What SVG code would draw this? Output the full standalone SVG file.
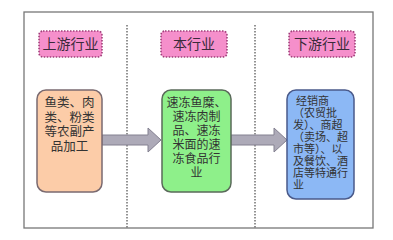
<svg xmlns="http://www.w3.org/2000/svg" width="393" height="240" viewBox="0 0 393 240">
<defs>
<style>
.hdr{fill:#f58fcb;stroke:#a0407a;stroke-width:1.6;stroke-dasharray:1.5 1.5}
.ht{font-family:"Noto Sans CJK SC","Noto Sans",sans-serif;font-size:14px;fill:#3a2a3a;text-anchor:middle}
.bt{font-family:"Noto Sans CJK SC","Noto Sans",sans-serif;font-size:12.5px;fill:#333;text-anchor:middle}
.gt{font-family:"Noto Sans CJK SC","Noto Sans",sans-serif;font-size:12px;fill:#333;text-anchor:middle}
.bl{font-family:"Noto Sans CJK SC","Noto Sans",sans-serif;font-size:11px;fill:#333}
.sep{stroke:#666;stroke-width:1.4;stroke-dasharray:1.5 1.5}
.arr{fill:#adaab8;stroke:#838090;stroke-width:1}
</style>
</defs>
<rect x="0" y="0" width="393" height="240" fill="#fff"/>
<rect x="24" y="12" width="349" height="216" fill="#fff" stroke="#777" stroke-width="1.3"/>
<line class="sep" x1="127" y1="25" x2="127" y2="228"/>
<line class="sep" x1="255" y1="25" x2="255" y2="228"/>
<g id="h1"><rect class="hdr" x="39" y="31" width="63" height="26" rx="4"/><text class="ht" x="70.5" y="49">上游行业</text></g>
<g id="h2"><rect class="hdr" x="161" y="31" width="66" height="26" rx="4"/><text class="ht" x="194" y="49">本行业</text></g>
<g id="h3"><rect class="hdr" x="289" y="31" width="66" height="26" rx="4"/><text class="ht" x="322" y="49">下游行业</text></g>
<g id="connectors">
<path class="arr" d="M102,135 H148 V128 L161,140 L148,152 V145 H102 Z"/>
<path class="arr" d="M231,135 H274 V128 L287,140 L274,152 V145 H231 Z"/>
</g>
<g id="n1"><rect x="37" y="90" width="65" height="102" rx="9" fill="#fccca8" stroke="#7a6a70" stroke-width="1.5"/>
<text class="bt"><tspan x="69.5" y="107">鱼类、肉</tspan><tspan x="69.5" y="121.5">类、粉类</tspan><tspan x="69.5" y="136">等农副产</tspan><tspan x="69.5" y="150.5">品加工</tspan></text></g>
<g id="n2"><rect x="162" y="90" width="69" height="102" rx="9" fill="#8ef08a" stroke="#5a6a5a" stroke-width="1.5"/>
<text class="gt"><tspan x="196.5" y="107">速冻鱼糜、</tspan><tspan x="196.5" y="121">速冻肉制</tspan><tspan x="196.5" y="135">品、速冻</tspan><tspan x="196.5" y="149">米面的速</tspan><tspan x="196.5" y="163">冻食品行</tspan><tspan x="196.5" y="177">业</tspan></text></g>
<g id="n3"><rect x="287" y="90" width="67" height="109" rx="9" fill="#8cb8f5" stroke="#4a5a8a" stroke-width="1.5"/>
<text class="bl"><tspan x="296" y="105">经销商</tspan><tspan x="293" y="117">（农贸批</tspan><tspan x="293" y="129">发）、商超</tspan><tspan x="293" y="141">（卖场、超</tspan><tspan x="293" y="153">市等）、以</tspan><tspan x="293" y="165">及餐饮、酒</tspan><tspan x="293" y="177">店等特通行</tspan><tspan x="293" y="189">业</tspan></text></g>
</svg>
